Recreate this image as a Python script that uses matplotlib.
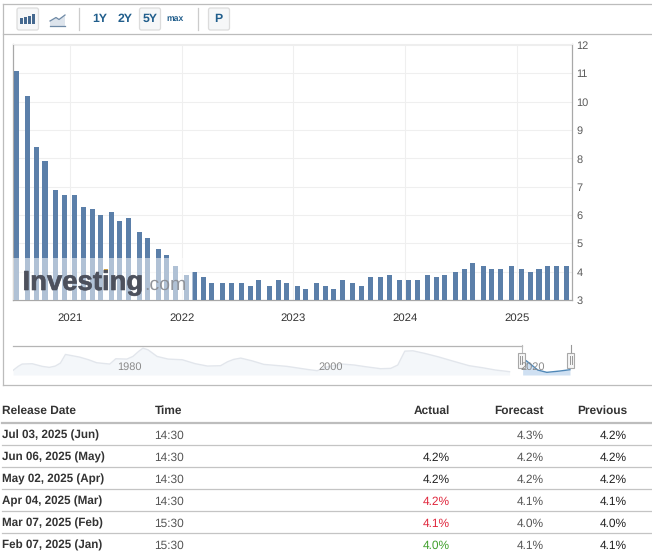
import matplotlib
matplotlib.use("Agg")
import matplotlib.pyplot as plt
import matplotlib.dates as mdates
import matplotlib.patheffects as pe
import pandas as pd
from matplotlib.patches import Rectangle, FancyBboxPatch

plt.rcParams['font.family'] = ['Liberation Sans', 'DejaVu Sans']
plt.rcParams['text.hinting'] = 'no_hinting'

W, H = 652, 557

# ---------------------------------------------------------------------------
# data
# ---------------------------------------------------------------------------
release_dates = [
    "2020-07-02", "2020-08-07", "2020-09-04", "2020-10-02", "2020-11-06", "2020-12-04",
    "2021-01-08", "2021-02-05", "2021-03-05", "2021-04-02", "2021-05-07", "2021-06-04",
    "2021-07-02", "2021-08-06", "2021-09-03", "2021-10-08", "2021-11-05", "2021-12-03",
    "2022-01-07", "2022-02-04", "2022-03-04", "2022-04-01", "2022-05-06", "2022-06-03",
    "2022-07-08", "2022-08-05", "2022-09-02", "2022-10-07", "2022-11-04", "2022-12-02",
    "2023-01-06", "2023-02-03", "2023-03-10", "2023-04-07", "2023-05-05", "2023-06-02",
    "2023-07-07", "2023-08-04", "2023-09-01", "2023-10-06", "2023-11-03", "2023-12-08",
    "2024-01-05", "2024-02-02", "2024-03-08", "2024-04-05", "2024-05-03", "2024-06-07",
    "2024-07-05", "2024-08-02", "2024-09-06", "2024-10-04", "2024-11-01", "2024-12-06",
    "2025-01-10", "2025-02-07", "2025-03-07", "2025-04-04", "2025-05-02", "2025-06-06",
]
rate = [
    11.1, 10.2, 8.4, 7.9, 6.9, 6.7,
    6.7, 6.3, 6.2, 6.0, 6.1, 5.8,
    5.9, 5.4, 5.2, 4.8, 4.6, 4.2,
    3.9, 4.0, 3.8, 3.6, 3.6, 3.6,
    3.6, 3.5, 3.7, 3.5, 3.7, 3.6,
    3.5, 3.4, 3.6, 3.5, 3.4, 3.7,
    3.6, 3.5, 3.8, 3.8, 3.9, 3.7,
    3.7, 3.7, 3.9, 3.8, 3.9, 4.0,
    4.1, 4.3, 4.2, 4.1, 4.1, 4.2,
    4.1, 4.0, 4.1, 4.2, 4.2, 4.2,
]
y_ticks = [3, 4, 5, 6, 7, 8, 9, 10, 11, 12]
year_ticks = [2021, 2022, 2023, 2024, 2025]

# long range navigator series
nav_years = [1970.1, 1970.6, 1971.0, 1972.0, 1973.0, 1973.7, 1974.3, 1974.8, 1975.3, 1976.0,
             1976.7, 1977.6, 1978.4, 1979.7, 1980.3, 1981.4, 1982.0, 1982.6, 1983.0, 1983.5,
             1984.4, 1985.5, 1986.9, 1988.2, 1989.4, 1990.7, 1991.4, 1992.0, 1992.7, 1993.8,
             1995.0, 1997.3, 1999.5, 2000.3, 2001.2, 2002.8, 2004.0, 2005.1, 2006.6, 2007.6,
             2008.3, 2009.0, 2009.8, 2011.0, 2012.3, 2014.0, 2015.4, 2016.7, 2018.0, 2019.4]
nav_rate = [4.0, 5.2, 5.9, 6.0, 5.2, 4.9, 5.3, 6.2, 8.8, 8.4,
            8.0, 7.2, 6.3, 5.9, 7.5, 7.4, 8.2, 9.8, 10.7, 10.2,
            8.2, 7.4, 7.2, 6.0, 5.3, 5.4, 6.6, 7.3, 7.7, 6.9,
            5.8, 5.2, 4.2, 3.9, 5.0, 5.9, 5.6, 5.1, 4.5, 4.6,
            5.6, 9.8, 9.9, 9.1, 8.1, 6.6, 5.4, 4.8, 4.1, 3.6]
sel_years = [2020.7, 2021.1, 2021.6, 2022.2, 2023.1, 2024.4, 2025.4]
sel_rate = [7.6, 6.8, 5.6, 4.1, 3.4, 3.8, 4.2]
nav_labels = ["1980", "2000", "2020"]
nav_label_px = [129.5, 331, 533]

# table
col_heads = ["Release Date", "Time", "Actual", "Forecast", "Previous"]
rel_text = ["Jul 03, 2025 (Jun)", "Jun 06, 2025 (May)", "May 02, 2025 (Apr)",
            "Apr 04, 2025 (Mar)", "Mar 07, 2025 (Feb)", "Feb 07, 2025 (Jan)"]
times = ["14:30", "14:30", "14:30", "14:30", "15:30", "15:30"]
actual = ["", "4.2%", "4.2%", "4.2%", "4.1%", "4.0%"]
actual_col = ["#222222", "#222222", "#222222", "#e0263c", "#e0263c", "#3f9f2b"]
forecast = ["4.3%", "4.2%", "4.2%", "4.1%", "4.0%", "4.1%"]
previous = ["4.2%", "4.2%", "4.2%", "4.1%", "4.0%", "4.1%"]

# ---------------------------------------------------------------------------
# helpers
# ---------------------------------------------------------------------------
def box_axes(fig, x0, y0, x1, y1, **kw):
    # axes from pixel box, y measured from the top
    return fig.add_axes([x0 / W, 1 - y1 / H, (x1 - x0) / W, (y1 - y0) / H], **kw)

def button(ax, x0, y0, x1, y1):
    ax.add_patch(FancyBboxPatch((x0 + 1, y0 + 1), x1 - x0 - 2, y1 - y0 - 2,
                                boxstyle="round,pad=1,rounding_size=2",
                                fc="#f6f7f8", ec="#dcdcdc", lw=0.9))

fig = plt.figure(figsize=(W / 100, H / 100), dpi=100, facecolor="white")

# ---------------------------------------------------------------------------
# main bars
# ---------------------------------------------------------------------------
ax = box_axes(fig, 12.5, 44, 571.5, 300)
x = mdates.date2num(pd.to_datetime(release_dates))
jan_2021 = mdates.date2num(pd.Timestamp("2021-01-01"))
ax.bar(x, rate, width=16.4, align="edge", bottom=0, color="#5b7fa9", zorder=3)
ax.set_xlim(jan_2021 - 189.2, jan_2021 + 1640.6)
ax.set_ylim(3, 12.04)
ax.set_yticks(y_ticks)
ax.set_xticks([mdates.date2num(pd.Timestamp(f"{y}-01-01")) for y in year_ticks])
ax.set_xticklabels([str(y) for y in year_ticks])
ax.yaxis.tick_right()
ax.tick_params(axis="y", length=0, pad=3.5, labelsize=7.9, labelcolor="#5a5a5a")
ax.tick_params(axis="x", length=0, pad=9, labelsize=8.2, labelcolor="#333333")
ax.grid(True, color="#efefef", lw=0.8, zorder=0)
for side in ["left", "right", "bottom"]:
    ax.spines[side].set_color("#a8a8a8")
    ax.spines[side].set_linewidth(0.9)
ax.spines["top"].set_color("#eeeeee")

# ---------------------------------------------------------------------------
# navigator
# ---------------------------------------------------------------------------
nav = box_axes(fig, 12.5, 345.5, 571.5, 375)
nav.set_xlim(1983 + (12.5 - 143) / 10.07, 1983 + (571.5 - 143) / 10.07)
nav.set_ylim(2.6, 11.5)
nav.fill_between(nav_years, nav_rate, 2.6, color="#f4f7fa", lw=0)
nav.plot(nav_years, nav_rate, color="#e2e6ec", lw=1)
nav.fill_between(sel_years, sel_rate, 2.6, color="#cfe0f2", lw=0)
nav.plot(sel_years, sel_rate, color="#4f88b8", lw=1)
nav.axis("off")

# ---------------------------------------------------------------------------
# page furniture, drawn in pixel coordinates
# ---------------------------------------------------------------------------
ui = fig.add_axes([0, 0, 1, 1], zorder=5)
ui.set_xlim(0, W)
ui.set_ylim(H, 0)
ui.axis("off")

# outer frame and toolbar
frame = "#bcbcbc"
ui.plot([2.5, W], [3.5, 3.5], color=frame, lw=0.9)
ui.plot([2.5, W], [34, 34], color=frame, lw=0.9)
ui.plot([2.5, 2.5], [3.5, 384.5], color=frame, lw=0.9)
ui.plot([2.5, W], [384.5, 384.5], color=frame, lw=0.9)
ui.plot([78.5, 78.5], [8, 30], color="#cccccc", lw=0.9)
ui.plot([197.5, 197.5], [8, 30], color="#cccccc", lw=0.9)

button(ui, 17, 8, 38.5, 30)
button(ui, 139.5, 8, 160.5, 30)
button(ui, 208.5, 8, 229.5, 30)

# bar and area icons
for bx, top in zip([20, 24, 28, 32], [17.5, 17, 15.7, 14.2]):
    ui.add_patch(Rectangle((bx, top), 3, 24 - top, fc="#44688f", lw=0))
ui.fill([50, 56, 59, 65, 65, 50], [21, 17.5, 19.5, 15, 26, 26], color="#dde4ec", lw=0)
ui.plot([50, 56, 59, 65], [21, 17.5, 19.5, 15], color="#6f8aa6", lw=0.9)
ui.plot([50, 65], [26, 26], color="#6f8aa6", lw=0.9)

link = "#215e8c"
for label, cx, size in [("1Y", 99.5, 8.8), ("2Y", 125, 8.8), ("5Y", 150, 8.8),
                        ("max", 175, 6.2), ("P", 218.5, 8.8)]:
    ui.text(cx, 19, label, ha="center", va="center", color=link, fontsize=size,
            fontweight="bold")

# watermark over the oldest bars
ui.add_patch(Rectangle((13, 258), 180, 42, fc="white", alpha=0.52, lw=0))
ui.text(22.5, 290, "Investing", ha="left", va="baseline", color="#4a4e5a", alpha=0.85,
        fontsize=19.8, fontweight="bold",
        path_effects=[pe.withStroke(linewidth=0.5, foreground="#4a4e5a")])
ui.text(144.5, 290, ".com", ha="left", va="baseline", color="#8c8f96", alpha=0.95, fontsize=14)
ui.add_patch(Rectangle((104, 268.5), 4, 3.4, fc="#f0b840", lw=0))

# navigator top line, labels and handles
ui.plot([13, 522], [345.5, 345.5], color="#b5b5b5", lw=0.9)
for lab, px in zip(nav_labels, nav_label_px):
    ui.text(px, 367, lab, ha="center", va="center", color="#8a8a8a", fontsize=7.9)
ui.plot([570.5, 570.5], [345, 352], color="#999999", lw=0.8)
ui.plot([522, 522], [345, 352], color="#bbbbbb", lw=0.8)
for hx in [521.3, 570.5]:
    ui.add_patch(Rectangle((hx - 3.7, 352.5), 7.4, 15.5, fc="#f6f6f6", ec="#a8a8a8", lw=0.8))
    ui.plot([hx - 1, hx - 1], [356, 364], color="#999999", lw=0.7)
    ui.plot([hx + 1, hx + 1], [356, 364], color="#999999", lw=0.7)

# ---------------------------------------------------------------------------
# release table
# ---------------------------------------------------------------------------
col_x = [2, 154.5, 450, 543.5, 627]
col_ha = ["left", "left", "right", "right", "right"]
for head, cx, ha in zip(col_heads, col_x, col_ha):
    ui.text(cx, 413.7, head, ha=ha, va="baseline", color="#333333", fontsize=8.6, fontweight="bold")
ui.plot([2, W], [423, 423], color="#bdbdbd", lw=1.6)

row_y = [434.7, 456.7, 478.7, 500.7, 522.7, 544.7]
for i, yy in enumerate(row_y):
    base = yy + 4.2
    ui.text(col_x[0], base, rel_text[i], ha="left", va="baseline", color="#333333",
            fontsize=8.4, fontweight="bold")
    ui.text(col_x[1], base, times[i], ha="left", va="baseline", color="#555555", fontsize=8.6)
    ui.text(col_x[2], base, actual[i], ha="right", va="baseline", color=actual_col[i], fontsize=8.6)
    ui.text(col_x[3], base, forecast[i], ha="right", va="baseline", color="#555555", fontsize=8.6)
    ui.text(col_x[4], base, previous[i], ha="right", va="baseline", color="#222222", fontsize=8.6)
    if i < 5:
        ui.plot([2, W], [yy + 10.7, yy + 10.7], color="#c4c4c4", lw=0.9)

fig.savefig("out.png", dpi=100)
